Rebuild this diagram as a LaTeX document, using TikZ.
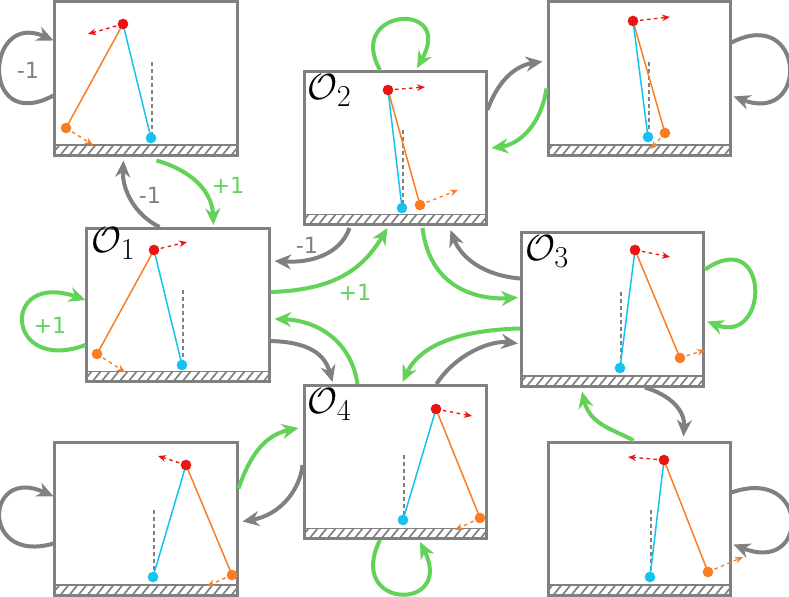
\documentclass[tikz,border=0pt]{standalone}
\usepackage{fontspec}
\newfontfamily\numfont{DejaVu Sans}
\usetikzlibrary{arrows.meta,calc}
\definecolor{pgray}{RGB}{128,128,128}
\definecolor{pgreen}{RGB}{98,210,88}
\definecolor{pred}{RGB}{235,20,20}
\definecolor{porange}{RGB}{250,125,35}
\definecolor{pcyan}{RGB}{20,195,240}
\begin{document}
\begin{tikzpicture}
      [x=0.3mm,y=-0.3mm
      ,panel/.style={draw=pgray,line width=0.9mm,minimum width=54.6mm,minimum height=45.9mm,inner sep=0pt}
      ,tag/.style={anchor=north west,font=\Huge,scale=1.25,inner sep=0pt}
      ,grayarr/.style={draw=pgray,line width=1.2mm,-{Stealth[length=5mm,width=4.5mm]}}
      ,greenarr/.style={draw=pgreen,line width=1.2mm,-{Stealth[length=5mm,width=4.5mm]}}
      ,num/.style={font=\fontsize{19}{20}\numfont}
      ]
      \useasboundingbox (0,0) rectangle (789,597);
      % panels
      \foreach \n/\x/\y in {tl/146/78.5,o2/395/148,tr/639/78.5,o1/178/305,o3/612.5/309.5,o4/395/462,bl/146/518.5,br/639/518.5}{
        \begin{scope}
          \clip (\x-91,\y+76.5) rectangle (\x+91,\y+66.5);
          \foreach \h in {0,9,...,190}
            \draw[pgray,line width=0.5mm] (\x-95+\h,\y+77) -- (\x-86+\h,\y+66);
        \end{scope}
        \draw[pgray,line width=0.5mm] (\x-91,\y+66.5) -- (\x+91,\y+66.5);
        \node[panel] (\n) at (\x,\y) {};
      }
      \node[tag] at ($(o1.north west)+(6,0)$) {$\mathcal{O}_1$};
      \node[tag] at ($(o2.north west)+(5,4)$) {$\mathcal{O}_2$};
      \node[tag] at ($(o3.north west)+(5,4)$) {$\mathcal{O}_3$};
      \node[tag] at ($(o4.north west)+(5,4)$) {$\mathcal{O}_4$};
      % pendulums
      \foreach \rx/\ry/\ox/\oy/\cx/\cy/\ax/\ay/\bx/\by/\dt in {
          123/24/66/128/151/138/88/34/93/145/62,
          388/90/420/205/402/208/425/87/458/190/130,
          633/21/665/133/648/137/670/17/651/149/62,
          154/250/97/354/182/365/187/242/125/372/290,
          635/250/680/358/620/368/670/257/705/350/292,
          436/409/480/518/403/520/472/416/455/530/455,
          186/465/232/575/153/577/158/456/207/586/510,
          664/460/708/572/650/577/628/457/743/557/510}{
        \draw[pgray,dashed,line width=0.35mm] (\cx+1,\dt) -- (\cx+1,\cy-4);
        \draw[porange,line width=0.45mm] (\rx,\ry) -- (\ox,\oy);
        \draw[pcyan,line width=0.45mm] (\rx,\ry) -- (\cx,\cy);
        \draw[pred,dashed,line width=0.4mm,-{Stealth[length=2.4mm,width=2mm]}] (\rx,\ry) -- (\ax,\ay);
        \draw[porange,dashed,line width=0.4mm,-{Stealth[length=2.4mm,width=2mm]}] (\ox,\oy) -- (\bx,\by);
        \fill[pred] (\rx,\ry) circle (1.6mm);
        \fill[porange] (\ox,\oy) circle (1.6mm);
        \fill[pcyan] (\cx,\cy) circle (1.6mm);
      }
      % self loops
      \draw[grayarr] ($(tl.west)+(0,17)$) .. controls (-20,135) and (-15,10) .. ($(tl.west)+(0,-38)$);
      \node[num,pgray] at (28,70) {-1};
      \draw[grayarr] ($(tr.east)+(0,-36)$) .. controls (805,5) and (810,125) .. ($(tr.east)+(2,18)$);
      \draw[greenarr] ($(o1.west)+(0,40)$) .. controls (5,375) and (0,270) .. ($(o1.west)+(0,-5)$);
      \node[num,pgreen] at (50,325) {+1};
      \draw[greenarr] ($(o3.east)+(0,-40)$) .. controls (770,225) and (770,345) .. ($(o3.east)+(2,12)$);
      \draw[greenarr] ($(o2.north)+(-15,0)$) .. controls (345,8) and (455,0) .. ($(o2.north)+(22,-2)$);
      \draw[greenarr] ($(o4.south)+(-15,0)$) .. controls (345,610) and (455,612) .. ($(o4.south)+(25,2)$);
      \draw[grayarr] ($(bl.west)+(0,25)$) .. controls (-20,565) and (-15,465) .. ($(bl.west)+(0,-22)$);
      \draw[grayarr] ($(br.east)+(0,-26)$) .. controls (810,465) and (810,575) .. ($(br.east)+(2,26)$);
      % transitions
      \draw[grayarr] ($(o1.north west)+(74,0)$) .. controls (135,215) and (122,190) .. ($(tl.south west)+(70,4)$);
      \node[num,pgray] at (150,195) {-1};
      \draw[greenarr] ($(tl.south west)+(103,4)$) .. controls (190,170) and (212,190) .. ($(o1.north west)+(128,-2)$);
      \node[num,pgreen] at (228,185) {+1};
      \draw[grayarr] ($(o2.south west)+(47,2)$) .. controls (340,255) and (310,263) .. ($(o1.north east)+(4,34)$);
      \node[num,pgray] at (307,245) {-1};
      \draw[greenarr] ($(o1.north east)+(0,65)$) .. controls (340,290) and (365,265) .. ($(o2.south west)+(85,2)$);
      \node[num,pgreen] at (355,292) {+1};
      \draw[greenarr] ($(o2.south west)+(120,2)$) .. controls (430,290) and (480,300) .. ($(o3.north west)+(-2,66)$);
      \draw[grayarr] ($(o3.north west)+(0,47)$) .. controls (480,275) and (460,255) .. ($(o2.south east)+(-37,4)$);
      \draw[greenarr] ($(o3.north west)+(0,97)$) .. controls (460,330) and (420,345) .. ($(o4.north west)+(100,-2)$);
      \draw[grayarr] ($(o4.north west)+(134,0)$) .. controls (455,355) and (490,340) .. ($(o3.north west)+(-2,112)$);
      \draw[grayarr] ($(o1.south east)+(0,-42)$) .. controls (310,342) and (325,355) .. ($(o4.north west)+(30,-2)$);
      \draw[greenarr] ($(o4.north west)+(55,0)$) .. controls (350,335) and (310,320) .. ($(o1.south east)+(4,-64)$);
      \draw[greenarr] ($(tr.west)+(0,10)$) .. controls (540,130) and (515,145) .. ($(o2.east)+(4,0)$);
      \draw[grayarr] ($(o2.north east)+(0,40)$) .. controls (500,75) and (520,65) .. ($(tr.west)+(-4,-17)$);
      \draw[greenarr] ($(bl.east)+(0,-30)$) .. controls (250,455) and (265,435) .. ($(o4.west)+(-4,-34)$);
      \draw[grayarr] ($(o4.west)+(0,3)$) .. controls (300,490) and (280,515) .. ($(bl.east)+(4,3)$);
      \draw[greenarr] ($(br.north west)+(87,0)$) .. controls (615,430) and (590,425) .. ($(o3.south west)+(62,4)$);
      \draw[grayarr] ($(o3.south west)+(125,0)$) .. controls (670,395) and (685,410) .. ($(br.north west)+(137,-4)$);
\end{tikzpicture}
\end{document}
